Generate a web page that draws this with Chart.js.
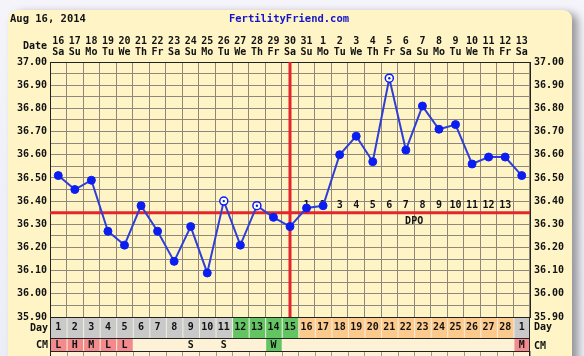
<!DOCTYPE html>
<html><head><meta charset="utf-8">
<script src="https://cdn.jsdelivr.net/npm/chart.js@4/dist/chart.umd.min.js"></script>
<style>
html,body{margin:0;padding:0;background:#eff0f7;overflow:hidden}
#wrap{position:relative;width:584px;height:356px;background:linear-gradient(#f4f4fa,#eceef6)}
#card{position:absolute;left:8px;top:10px;width:564px;height:390px;background:#fef4c6;border-radius:9px;box-shadow:6px 3px 9px rgba(0,0,0,0.38)}
canvas{position:absolute;left:0;top:0}
</style></head><body>
<div id="wrap"><div id="card"></div><canvas id="c" width="584" height="356"></canvas></div>
<script>
const chartDate = 'Aug 16, 2014';
const siteName = 'FertilityFriend.com';
const dates = ['16','17','18','19','20','21','22','23','24','25','26','27','28','29','30','31','1','2','3','4','5','6','7','8','9','10','11','12','13'];
const weekdays = ['Sa','Su','Mo','Tu','We','Th','Fr','Sa','Su','Mo','Tu','We','Th','Fr','Sa','Su','Mo','Tu','We','Th','Fr','Sa','Su','Mo','Tu','We','Th','Fr','Sa'];
const temps = [36.51,36.45,36.49,36.27,36.21,36.38,36.27,36.14,36.29,36.09,36.40,36.21,36.38,36.33,36.29,36.37,36.38,36.60,36.68,36.57,36.93,36.62,36.81,36.71,36.73,36.56,36.59,36.59,36.51];
const discarded = [false,false,false,false,false,false,false,false,false,false,true,false,true,false,false,false,false,false,false,false,true,false,false,false,false,false,false,false,false];
const cycleDays = ['1','2','3','4','5','6','7','8','9','10','11','12','13','14','15','16','17','18','19','20','21','22','23','24','25','26','27','28','1'];
const dayPhase = ['p','p','p','p','p','p','p','p','p','p','p','f','f','f','f','l','l','l','l','l','l','l','l','l','l','l','l','l','p'];
const cm = ['L','H','M','L','L','','','','S','','S','','','W','','','','','','','','','','','','','','','M'];
const dpoLabels = ['','','','','','','','','','','','','','','','1','2','3','4','5','6','7','8','9','10','11','12','13',''];
const coverline = 36.35;
const ovulationIndex = 14;
const yMin = 35.90, yMax = 37.00, yStep = 0.05;

const F = 'DejaVu Sans Mono';
const phaseColor = {p:'#c9c9c9', f:'#63c463', l:'#fcca8c'};
function cmColor(v){ if(v==='W') return '#63c463'; if(v==='S') return '#fdf1d6'; return '#f28a8e'; }

const overlay = {
  id:'overlay',
  beforeDatasetsDraw(c){
    const {ctx, chartArea:a, scales:{x,y}} = c;
    ctx.save();
    const cy = y.getPixelForValue(coverline);
    ctx.font = 'bold 10px "' + F + '"'; ctx.fillStyle='#111'; ctx.textAlign='center'; ctx.textBaseline='middle';
    dpoLabels.forEach((t,i)=>{ if(t) ctx.fillText(t, x.getPixelForValue(i), cy-7); });
    ctx.fillText('DPO', (x.getPixelForValue(21)+x.getPixelForValue(22))/2, cy+9);
    ctx.strokeStyle='#e2262b'; ctx.lineWidth=3;
    ctx.beginPath(); ctx.moveTo(a.left, cy); ctx.lineTo(a.right, cy); ctx.stroke();
    const ox = x.getPixelForValue(ovulationIndex);
    ctx.beginPath(); ctx.moveTo(ox, a.top); ctx.lineTo(ox, a.bottom); ctx.stroke();
    ctx.restore();
  },
  afterDatasetsDraw(c){
    const {ctx} = c;
    const meta = c.getDatasetMeta(0);
    ctx.save(); ctx.fillStyle='#0b1ef2';
    meta.data.forEach((pt,i)=>{ if(discarded[i]){ ctx.beginPath(); ctx.arc(pt.x, pt.y, 1.2, 0, Math.PI*2); ctx.fill(); } });
    ctx.restore();
  },
  afterDraw(c){
    const {ctx, chartArea:a, scales:{x}} = c;
    ctx.save();
    ctx.textBaseline='middle';
    ctx.font = 'bold 10.5px "' + F + '"';
    ctx.fillStyle='#111'; ctx.textAlign='left'; ctx.fillText(chartDate, 10, 19);
    ctx.fillStyle='#1414c8'; ctx.textAlign='center'; ctx.fillText(siteName, 289, 19);
    ctx.font = 'bold 10px "' + F + '"';
    ctx.fillStyle='#111'; ctx.textAlign='right'; ctx.fillText('Date', 47, 46);
    const w = x.getPixelForValue(1) - x.getPixelForValue(0);
    const r1t = a.bottom, r1b = a.bottom + 21, r2b = r1b + 13, r3b = r2b + 20;
    ctx.fillStyle='#f3efe2'; ctx.fillRect(a.left, r1t, a.right-a.left, r1b-r1t);
    ctx.fillStyle='#fdf1d6'; ctx.fillRect(a.left, r1b, a.right-a.left, r3b-r1b);
    for(let i=0;i<cycleDays.length;i++){
      const cx = x.getPixelForValue(i), l = cx - w/2;
      ctx.fillStyle = phaseColor[dayPhase[i]];
      ctx.fillRect(l+1, r1t, w-1, r1b-r1t);
      if(cm[i] && cm[i] !== 'S'){ ctx.fillStyle = cmColor(cm[i]); ctx.fillRect(l+1, r1b+1, w-1, r2b-r1b-1); }
      ctx.fillStyle='#111'; ctx.textAlign='center';
      ctx.fillText(cycleDays[i], cx, (r1t+r1b)/2);
      if(cm[i]) ctx.fillText(cm[i], cx, (r1b+r2b)/2+1);
    }
    ctx.strokeStyle='#a09a8c'; ctx.lineWidth=1;
    for(let i=0;i<=cycleDays.length;i++){
      const lx = Math.round(x.getPixelForValue(0) - w/2 + i*w) + 0.5;
      ctx.beginPath(); ctx.moveTo(lx, r2b); ctx.lineTo(lx, r3b); ctx.stroke();
    }
    ctx.strokeStyle='#222';
    [r1t, r1b, r2b].forEach(yy=>{ ctx.beginPath(); ctx.moveTo(a.left, Math.round(yy)+0.5); ctx.lineTo(a.right, Math.round(yy)+0.5); ctx.stroke(); });
    ctx.beginPath(); ctx.moveTo(a.left+0.5, r1t); ctx.lineTo(a.left+0.5, r3b); ctx.stroke();
    ctx.beginPath(); ctx.moveTo(a.right-0.5, r1t); ctx.lineTo(a.right-0.5, r3b); ctx.stroke();
    ctx.fillStyle='#111';
    ctx.textAlign='right';
    ctx.fillText('Day', 48, (r1t+r1b)/2+1); ctx.fillText('CM', 48, (r1b+r2b)/2+1);
    ctx.textAlign='left';
    ctx.fillText('Day', 534, (r1t+r1b)/2); ctx.fillText('CM', 534, (r1b+r2b)/2+2);
    ctx.restore();
  }
};

const tickFont = {family:F, weight:'bold', size:10, lineHeight:1.1};
const yLabel = v => (Math.round(v*100) % 10 === 0) ? Number(v).toFixed(2) : '';

new Chart(document.getElementById('c'), {
  type:'line',
  data:{
    labels: dates.map((d,i)=>[d, weekdays[i]]),
    datasets:[{
      data: temps, yAxisID:'y',
      borderColor:'#2f3fd6', borderWidth:2, tension:0,
      pointRadius:4, pointHoverRadius:4,
      pointBackgroundColor: discarded.map(d=>d?'#ffffff':'#0b1ef2'),
      pointBorderColor:'#0b1ef2',
      pointBorderWidth: discarded.map(d=>d?1.5:1)
    }]
  },
  options:{
    responsive:false, animation:false, devicePixelRatio:1, events:[],
    layout:{padding:{left:0,right:0,top:0,bottom:39}},
    plugins:{legend:{display:false}, tooltip:{enabled:false}},
    scales:{
      x:{position:'top', offset:true,
         grid:{offset:true, color:'#8e877a', lineWidth:1, drawTicks:false},
         border:{display:true, color:'#222', width:1},
         ticks:{autoSkip:false, maxRotation:0, minRotation:0, padding:4, color:'#111', font:tickFont},
         afterFit(s){ s.height = 62; }},
      y:{position:'left', min:yMin, max:yMax,
         ticks:{stepSize:yStep, autoSkip:false, padding:3, color:'#111', font:tickFont, callback:yLabel},
         grid:{color:'#8e877a', lineWidth:1, drawTicks:false},
         border:{display:true, color:'#222', width:1},
         afterFit(s){ s.width = 50; }},
      y2:{position:'right', min:yMin, max:yMax,
         ticks:{stepSize:yStep, autoSkip:false, padding:4, color:'#111', font:tickFont, callback:yLabel},
         grid:{drawOnChartArea:false, drawTicks:false},
         border:{display:true, color:'#222', width:1},
         afterFit(s){ s.width = 54; }}
    }
  },
  plugins:[overlay]
});
</script>
</body></html>
